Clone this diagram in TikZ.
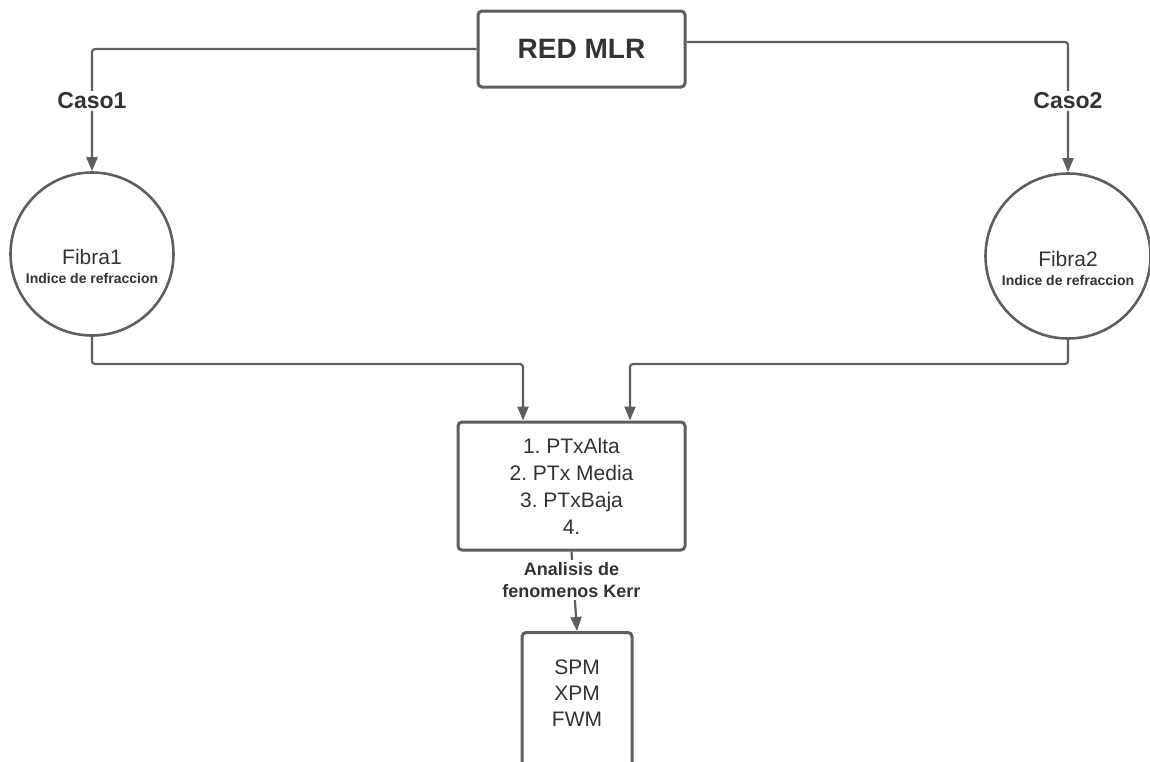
\documentclass[tikz,border=0pt]{standalone}
\usepackage{fontspec}
\setmainfont{Liberation Sans}
\usetikzlibrary{arrows.meta,calc}
\definecolor{linegray}{HTML}{5E5E5E}
\definecolor{txt}{HTML}{333333}
\tikzset{
  box/.style={draw=linegray, line width=3pt, rounded corners=4pt, fill=white, text=txt, align=center, inner sep=0pt},
  fiber/.style={draw=linegray, line width=2.6pt, circle, fill=white, text=txt, align=center, inner sep=0pt,
    font=\fontsize{14}{19}\selectfont},
  conn/.style={draw=linegray, line width=2.2pt, rounded corners=3pt},
  arr/.style={-{Triangle[length=14pt,width=11pt]}},
  lbl/.style={fill=white, text=txt, font=\bfseries, align=center, inner sep=2pt},
}
\newcommand{\fibtext}[1]{\rule{0pt}{40pt}{\fontsize{21}{24}\selectfont #1}\\{\bfseries Indice de refraccion}}
\begin{document}
\frenchspacing
\begin{tikzpicture}[x=1pt,y=-1pt]
\useasboundingbox (0,0) rectangle (1150,761);
\clip (0,0) rectangle (1150,761);

% main nodes
\node[box, minimum width=207pt, minimum height=76pt, font=\fontsize{28}{32}\selectfont\bfseries] (top) at (581.5,49) {RED MLR};
\node[fiber, minimum size=163pt] (c1) at (92,254) {\fibtext{Fibra1}};
\node[fiber, minimum size=165pt] (c2) at (1068,256) {\fibtext{Fibra2}};
\node[box, minimum width=227pt, minimum height=128pt, font=\fontsize{21}{27}\selectfont] (list) at (571.5,486) {1. PTxAlta\\2. PTx Media\\3. PTxBaja\\4.};
\node[box, minimum width=110pt, minimum height=150pt, anchor=north] (out) at (577,631) {};
\node[text=txt, font=\fontsize{21}{26}\selectfont, align=center] (outtxt) at (577,693) {SPM\\XPM\\FWM};

% routing points
\coordinate (busL) at (523,364);
\coordinate (busR) at (630,364);

% connectors
\draw[conn, arr] (top.west) -| (c1.north);
\draw[conn, arr] ([yshift=7pt]top.east) -| (c2.north);
\draw[conn, arr] (c1.south) |- (busL) -- (list.north -| busL);
\draw[conn, arr] (c2.south) |- (busR) -- (list.north -| busR);
\draw[conn, arr] (list.south) -- (out.north);

% connector labels
\node[lbl, font=\fontsize{23}{26}\selectfont\bfseries] (caso1) at (92,101) {Caso1};
\node[lbl, font=\fontsize{23}{26}\selectfont\bfseries] (caso2) at (1068,101) {Caso2};
\node[lbl, font=\fontsize{18}{22}\selectfont\bfseries] (kerr) at (571.5,580) {Analisis de\\fenomenos Kerr};
\end{tikzpicture}
\end{document}
